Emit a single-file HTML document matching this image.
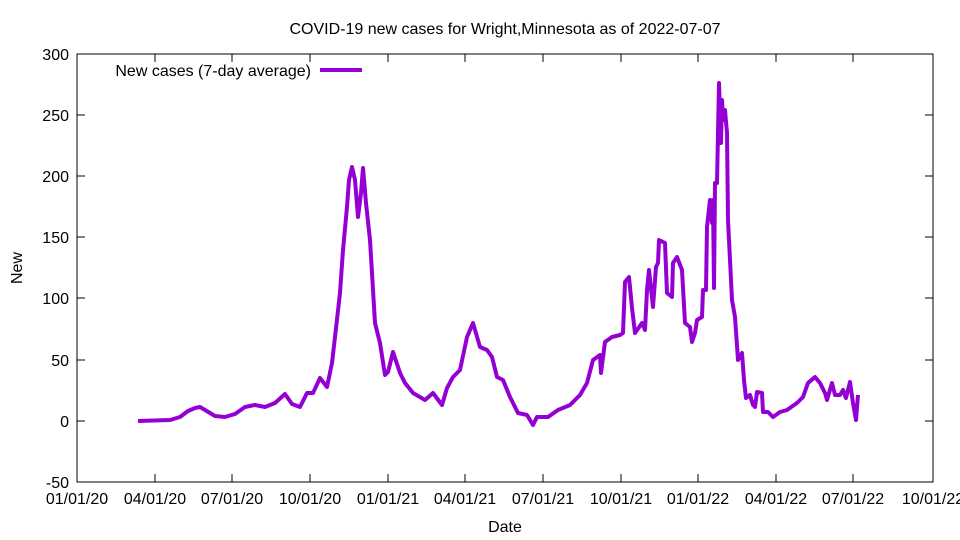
<!DOCTYPE html>
<html><head><meta charset="utf-8"><style>body{margin:0;background:#fff}svg{display:block}text{font-family:"Liberation Sans",sans-serif;font-size:16px;fill:#000}</style></head><body>
<svg width="960" height="540" viewBox="0 0 960 540">
<rect x="77" y="54" width="856" height="428" fill="none" stroke="#000" stroke-width="1"/>
<g stroke="#000" stroke-width="1">
<path d="M77,54h8M77,115h8M77,176h8M77,237h8M77,298h8M77,360h8M77,421h8M77,482h8M933,54h-8M933,115h-8M933,176h-8M933,237h-8M933,298h-8M933,360h-8M933,421h-8M933,482h-8"/>
<path d="M77,482v-8M155,482v-8M232,482v-8M310,482v-8M388,482v-8M465,482v-8M543,482v-8M621,482v-8M698,482v-8M776,482v-8M853,482v-8M933,482v-8M77,54v8M155,54v8M232,54v8M310,54v8M388,54v8M465,54v8M543,54v8M621,54v8M698,54v8M776,54v8M853,54v8M933,54v8"/>
</g>
<g text-anchor="end">
<text x="69" y="60">300</text><text x="69" y="121">250</text><text x="69" y="182">200</text><text x="69" y="243">150</text><text x="69" y="304">100</text><text x="69" y="366">50</text><text x="69" y="427">0</text><text x="69" y="488">-50</text>
</g>
<g text-anchor="middle">
<text x="77" y="504">01/01/20</text><text x="155" y="504">04/01/20</text><text x="232" y="504">07/01/20</text><text x="310" y="504">10/01/20</text><text x="388" y="504">01/01/21</text><text x="465" y="504">04/01/21</text><text x="543" y="504">07/01/21</text><text x="621" y="504">10/01/21</text><text x="698" y="504">01/01/22</text><text x="776" y="504">04/01/22</text><text x="853" y="504">07/01/22</text><text x="933" y="504">10/01/22</text>
<text x="505" y="532">Date</text>
<text x="505" y="34">COVID-19 new cases for Wright,Minnesota as of 2022-07-07</text>
</g>
<text x="22" y="268" text-anchor="middle" transform="rotate(-90 22 268)">New</text>
<text x="311" y="76" text-anchor="end">New cases (7-day average)</text>
<path d="M320,70h42" stroke="#9400d3" stroke-width="4"/>
<polyline fill="none" stroke="#9400d3" stroke-width="4" stroke-linejoin="round" points="138,421 170,420 180,417 188,411 195,408 200,407 205,410 215,416 225,417 235,414 245,407 255,405 265,407 275,403 285,394 292,404 300,407 307,393 313,393 320,378 327,387 332,363 335,337 340,293 343,250 347,207 349,180 352,167 355,180 358,217 361,193 363,168 366,203 370,240 375,323 380,343 385,375 388,372 393,352 400,373 405,383 413,393 425,400 433,393 442,405 447,388 453,377 460,370 467,337 473,323 480,347 487,350 492,357 497,377 503,380 510,397 518,413 527,415 533,425 537,417 548,417 558,410 570,405 580,395 587,383 593,360 600,355 601,373 605,342 612,337 620,335 623,333 625,282 629,277 632,308 635,333 642,323 645,330 647,290 649,270 653,307 656,267 658,263 659,240 665,243 667,293 672,297 673,263 677,257 682,270 685,323 690,327 692,342 695,333 697,320 702,317 703,290 706,290 707,227 710,200 712,223 713,200 714,288 715,183 717,183 719,83 721,143 722,100 723,120 725,110 727,133 728,220 732,300 735,317 738,360 742,353 744,380 746,398 750,395 753,405 755,407 757,392 762,393 763,412 768,412 773,417 780,412 787,410 797,403 803,397 808,383 815,377 820,383 825,393 827,400 832,383 835,395 840,395 843,390 846,398 850,382 853,403 856,420 858,395"/>
</svg>
</body></html>
